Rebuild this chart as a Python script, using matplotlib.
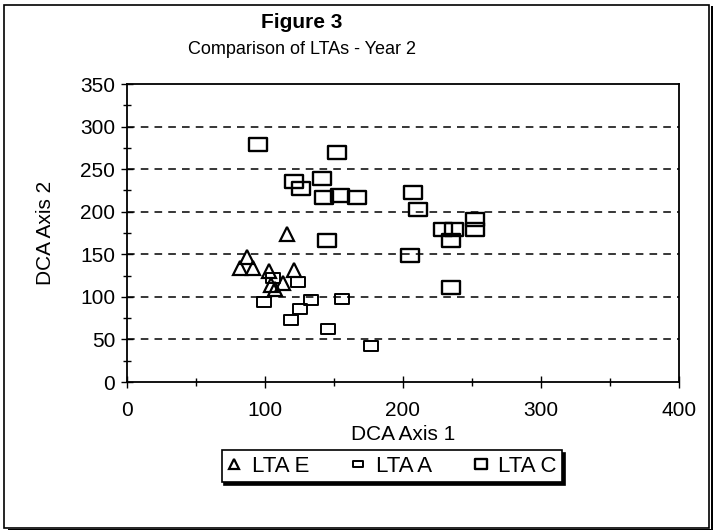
import matplotlib
matplotlib.use('Agg')
import matplotlib.pyplot as plt
from matplotlib.patches import Rectangle
from matplotlib.path import Path
import numpy as np

plt.rcParams['font.family']=['Liberation Sans','DejaVu Sans']

# LTA E (triangles)
lta_e_x=[87,82,91,103,121,116,113,104,107]
lta_e_y=[147,134,134,130,131,174,116,114,109]
# LTA A (small rounded boxes)
lta_a_x=[106,124,99,133,125,119,146,156,177]
lta_a_y=[122,118,94,96,86,73,62,98,42]
# LTA C (boxes)
lta_c_x=[95,152,121,126,141,143,154,167,207,211,145,205,229,237,235,252,252,235]
lta_c_y=[280,270,236,228,240,217,220,217,223,203,167,149,180,180,167,192,180,112]

xticks=[0,100,200,300,400]
yticks=[0,50,100,150,200,250,300,350]

# wide box marker
box=Path([(-1,-0.72),(1,-0.72),(1,0.72),(-1,0.72),(-1,-0.72)],
         [Path.MOVETO,Path.LINETO,Path.LINETO,Path.LINETO,Path.CLOSEPOLY])

W,H=714,532
fig=plt.figure(figsize=(W/100,H/100),dpi=100)
fig.patch.set_facecolor('white')

# outer frame
fig.add_artist(Rectangle((4/W,4/H),(W-9)/W,(H-9)/H,transform=fig.transFigure,
                         fill=False,edgecolor='black',linewidth=1.2))
fig.add_artist(Rectangle((8/W,2/H),(W-10)/W,1.5/H,transform=fig.transFigure,
                         facecolor='black',edgecolor='none'))
fig.add_artist(Rectangle(((W-3)/W,2/H),1.5/W,(H-8)/H,transform=fig.transFigure,
                         facecolor='black',edgecolor='none'))

ax=fig.add_axes([127/W,1-382/H,(679-127)/W,(382-84)/H])
ax.set_xlim(0,400)
ax.set_ylim(0,350)
ax.set_xticks(xticks)
ax.set_yticks(yticks)
ax.set_xticks(np.arange(50,400,100),minor=True)
ax.set_yticks(np.arange(25,350,50),minor=True)
ax.tick_params(which='major',direction='inout',length=9,width=1,labelsize=15)
ax.tick_params(which='minor',direction='inout',length=6,width=1)
ax.tick_params(axis='x',which='major',pad=9)
ax.tick_params(axis='y',which='major',pad=4)
for s in ax.spines.values():
    s.set_linewidth(1.3)
for y in yticks[1:-1]:
    ax.axhline(y,color='black',linestyle=(0,(5,4)),linewidth=1.1,zorder=1)

ax.plot(lta_e_x,lta_e_y,linestyle='none',marker='^',markersize=10,markerfacecolor='none',
        markeredgecolor='black',markeredgewidth=1.6,label='LTA E',zorder=3)
ax.plot(lta_a_x,lta_a_y,linestyle='none',marker=box,markersize=10,markerfacecolor='none',
        markeredgecolor='black',markeredgewidth=1.4,label='LTA A',zorder=3)
ax.plot(lta_c_x,lta_c_y,linestyle='none',marker=box,markersize=13,markerfacecolor='none',
        markeredgecolor='black',markeredgewidth=1.7,label='LTA C',zorder=3)

ax.set_xlabel('DCA Axis 1',fontsize=15,labelpad=4)
ax.set_ylabel('DCA Axis 2',fontsize=15,labelpad=18)

fig.text(302/W,1-22/H,'Figure 3',ha='center',va='center',fontsize=15,fontweight='bold')
fig.text(302/W,1-50/H,'Comparison of LTAs - Year 2',ha='center',va='center',fontsize=13)

leg=fig.legend(loc='center',bbox_to_anchor=(392/W,1-466/H),ncol=3,fontsize=16,
               frameon=True,fancybox=False,shadow={'color':'black','alpha':1},
               handlelength=0.6,handletextpad=0.5,columnspacing=1.9,borderpad=0.25,
               markerscale=0.7,borderaxespad=0)
leg.get_frame().set_edgecolor('black')
leg.get_frame().set_linewidth(1.2)

fig.savefig('out.png',dpi=100)
